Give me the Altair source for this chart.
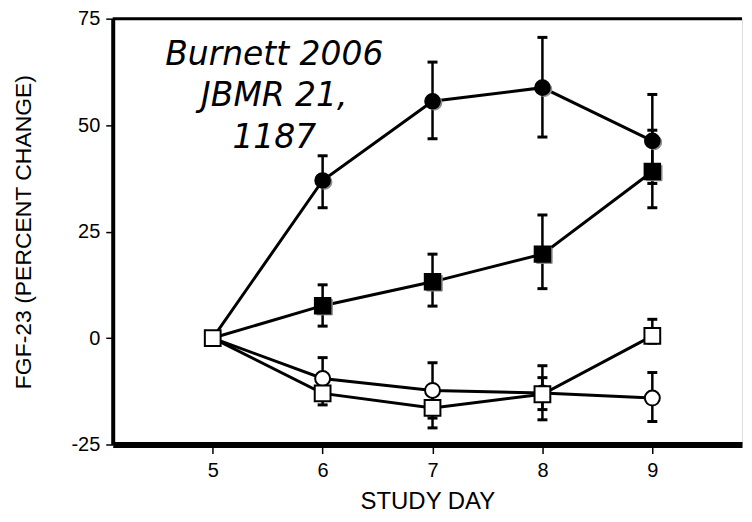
import altair as alt
import pandas as pd

# ---- data ----
DAYS = [5, 6, 7, 8, 9]
SERIES = ["Filled circle", "Filled square", "Open circle", "Open square"]

FC_MEAN = [0, 37.0, 55.6, 58.8, 46.3]
FC_LO = [None, 30.6, 46.8, 47.2, 36.3]
FC_HI = [None, 42.8, 64.8, 70.6, 57.2]

FS_MEAN = [0, 7.6, 13.2, 19.7, 39.1]
FS_LO = [None, 2.8, 7.5, 11.6, 30.6]
FS_HI = [None, 12.5, 19.7, 28.9, 48.8]

OC_MEAN = [0, -9.5, -12.3, -12.9, -14.1]
OC_LO = [None, -14.4, -18.8, -19.2, -19.6]
OC_HI = [None, -4.6, -5.8, -6.5, -8.1]

OS_MEAN = [0, -13.0, -16.4, -13.2, 0.5]
OS_LO = [None, -15.7, -21.1, -16.8, -1.2]
OS_HI = [None, -10.0, -11.7, -9.3, 4.4]

X_TICKS = [5, 6, 7, 8, 9]
Y_TICKS = [-25, 0, 25, 50, 75]
X_DOMAIN = [4.09, 9.816]
Y_DOMAIN = [-25, 75]
ANNOTATION = "Burnett 2006\nJBMR 21,\n1187"

rows = []
for name, means, los, his in zip(
    SERIES,
    [FC_MEAN, FS_MEAN, OC_MEAN, OS_MEAN],
    [FC_LO, FS_LO, OC_LO, OS_LO],
    [FC_HI, FS_HI, OC_HI, OS_HI],
):
    for d, m, lo, hi in zip(DAYS, means, los, his):
        rows.append({"series": name, "day": d, "mean": m, "lo": lo, "hi": hi})
df = pd.DataFrame(rows)

FONT = "Liberation Sans"

x_scale = alt.Scale(domain=X_DOMAIN, nice=False, zero=False)
y_scale = alt.Scale(domain=Y_DOMAIN, nice=False, zero=False)
x_axis = alt.Axis(
    values=X_TICKS, labelExpr="'' + datum.value", title="STUDY DAY", grid=False,
    labelFont=FONT, labelFontSize=20, labelColor="black", labelPadding=7,
    titleFont=FONT, titleFontSize=24, titleFontWeight="normal",
    titleColor="black", titlePadding=9,
    tickSize=9, tickWidth=1.5, tickColor="black",
    domainWidth=6, domainColor="black",
)
y_axis = alt.Axis(
    values=Y_TICKS, labelExpr="'' + datum.value", title="FGF-23 (PERCENT CHANGE)", grid=False,
    labelFont=FONT, labelFontSize=20, labelColor="black", labelPadding=6,
    titleFont=FONT, titleFontSize=23, titleFontWeight="normal",
    titleColor="black", titlePadding=36,
    tickSize=7, tickWidth=1.5, tickColor="black",
    domainWidth=4, domainColor="black",
)

def X(field="day"):
    return alt.X(f"{field}:Q", scale=x_scale, axis=x_axis)

def Y(field):
    return alt.Y(f"{field}:Q", scale=y_scale, axis=y_axis)

base = alt.Chart(df)

lines = base.mark_line(color="black", strokeWidth=3).encode(
    x=X(), y=Y("mean"), detail="series:N", order="day:Q"
)

err = base.transform_filter("datum.day > 5")
rules = err.mark_rule(color="black", strokeWidth=2.5).encode(
    x=X(), y=Y("lo"), y2="hi:Q"
)
caps_lo = err.mark_tick(orient="horizontal", color="black", size=10, thickness=3, opacity=1).encode(
    x=X(), y=Y("lo")
)
caps_hi = err.mark_tick(orient="horizontal", color="black", size=10, thickness=3, opacity=1).encode(
    x=X(), y=Y("hi")
)

def markers(series, shape, fill, size, shadow=False, include_day5=False):
    flt = f"datum.series == '{series}'" + ("" if include_day5 else " && datum.day > 5")
    c = base.transform_filter(flt)
    if shadow:
        return c.mark_point(
            shape=shape, filled=True, fill="#8c8c8c", stroke="#8c8c8c",
            strokeWidth=1, size=size, opacity=1, xOffset=2, yOffset=1.5,
        ).encode(x=X(), y=Y("mean"))
    return c.mark_point(
        shape=shape, filled=True, fill=fill, stroke="black",
        strokeWidth=2, size=size, opacity=1,
    ).encode(x=X(), y=Y("mean"))

fc_sh = markers("Filled circle", "circle", "black", 215, shadow=True)
fs_sh = markers("Filled square", "square", "black", 240, shadow=True)
fc = markers("Filled circle", "circle", "black", 215)
fs = markers("Filled square", "square", "black", 240)
oc = markers("Open circle", "circle", "white", 225)
os_ = markers("Open square", "square", "white", 250, include_day5=True)

one = alt.Chart(pd.DataFrame({"label": [ANNOTATION]}))
top_border = one.mark_rule(color="black", strokeWidth=3).encode(
    x=alt.datum(X_DOMAIN[0], scale=x_scale, axis=x_axis),
    x2=alt.datum(X_DOMAIN[1]),
    y=alt.datum(Y_DOMAIN[1], scale=y_scale, axis=y_axis),
)
annot = one.mark_text(
    font="DejaVu Sans", fontStyle="italic", fontSize=33, align="center",
    baseline="alphabetic", lineBreak="\n", lineHeight=42, color="black",
).encode(text="label:N", x=alt.value(162), y=alt.value(46))

chart = (
    alt.layer(lines, rules, caps_lo, caps_hi, fc_sh, fs_sh, fc, fs, oc, os_, top_border, annot)
    .properties(width=631, height=427, padding={"left": 4, "top": 0, "right": 0, "bottom": 0})
    .configure_view(stroke=None)
    .configure(background="white")
)

chart.save("out.html", embed_options={"renderer": "svg", "actions": False})
